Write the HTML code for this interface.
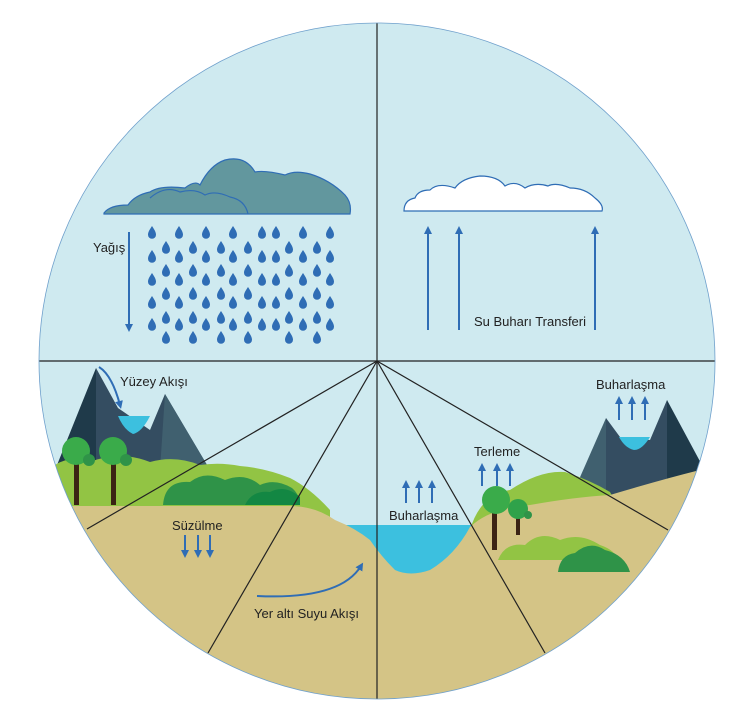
<!DOCTYPE html>
<html><head><meta charset="utf-8"><style>
html,body{margin:0;padding:0;background:#fff;}
svg{display:block;}
text{font-family:"Liberation Sans",sans-serif;font-size:13px;fill:#222;}
</style></head><body>
<svg width="751" height="710" viewBox="0 0 751 710" xmlns="http://www.w3.org/2000/svg">
<defs>
<clipPath id="c"><circle cx="377" cy="361" r="338"/></clipPath>
<path id="d" d="M0,-7 C2.3,-3.5 4,-1 4,1.8 A4,4 0 0 1 -4,1.8 C-4,-1 -2.3,-3.5 0,-7Z" fill="#2f6db5"/>
<marker id="ah" markerWidth="8" markerHeight="8" refX="4" refY="4" orient="auto" markerUnits="userSpaceOnUse"><path d="M0,0 L8,4 L0,8 Z" fill="#2f6db5"/></marker>
</defs>
<g clip-path="url(#c)">
<rect x="0" y="0" width="751" height="710" fill="#cfeaf0"/>
<polygon points="55,470 96,368 130,470" fill="#1f3a4a"/>
<polygon points="96,368 118,408 150,430 165,394 210,470 96,470" fill="#344d61"/>
<polygon points="165,394 210,470 160,470" fill="#40606f"/>
<path d="M118,416 L150,416 Q142,432 133,434 Q124,430 118,416Z" fill="#3cc0df"/>
<path d="M55,505 L55,465 Q70,455 90,462 Q120,450 150,462 Q175,455 200,465 Q220,462 240,466 Q265,468 290,478 Q310,488 330,510 L330,520 L55,520Z" fill="#92c444"/>
<path d="M163,505 Q165,480 190,482 Q205,470 225,480 Q245,472 260,485 Q275,478 292,488 Q300,495 300,505Z" fill="#2f9348"/>
<path d="M245,505 Q252,490 270,492 Q285,484 300,497 L300,505Z" fill="#138743"/>
<rect x="74" y="455" width="5" height="50" fill="#3b2314"/>
<rect x="111" y="455" width="5" height="50" fill="#3b2314"/>
<circle cx="76" cy="451" r="14" fill="#3aab4a"/><circle cx="89" cy="460" r="6" fill="#2f9348"/>
<circle cx="113" cy="451" r="14" fill="#3aab4a"/><circle cx="126" cy="460" r="6" fill="#2f9348"/>
<polygon points="570,500 606,418 640,500" fill="#40606f"/>
<polygon points="606,418 620,437 650,440 667,400 700,500 606,500" fill="#344d61"/>
<polygon points="667,400 710,480 700,500 667,500" fill="#1f3a4a"/>
<path d="M619,437 L650,437 Q642,450 634,450 Q625,448 619,437Z" fill="#3cc0df"/>
<path d="M340,525 L475,525 Q450,572 410,575 Q385,575 375,550 Q360,530 340,525Z" fill="#3cc0df"/>
<path d="M470,530 Q480,495 510,490 Q540,470 565,472 Q590,480 610,492 L620,510 L470,540Z" fill="#92c444"/>
<path d="M40,506 L290,506 Q315,506 335,520 Q355,528 370,540 Q380,555 395,570 Q410,577 430,570 Q455,555 470,527 Q490,508 530,505 Q575,497 610,495 Q660,480 700,470 L760,470 L760,720 L40,720Z" fill="#d4c486"/>
<path d="M498,560 Q505,542 525,545 Q540,530 560,540 Q580,532 600,545 Q615,550 618,560Z" fill="#92c444"/>
<path d="M558,572 Q560,555 575,553 Q590,540 605,550 Q625,555 630,572Z" fill="#2f9348"/>
<rect x="492" y="505" width="5" height="45" fill="#3b2314"/>
<rect x="516" y="510" width="4" height="25" fill="#3b2314"/>
<circle cx="496" cy="500" r="14" fill="#3aab4a"/>
<circle cx="518" cy="509" r="10" fill="#2fa24a"/><circle cx="528" cy="515" r="4" fill="#2f9348"/>
<path d="M104,213 Q110,205 128,205 Q135,195 150,192 Q160,185 185,188 Q195,180 200,185 Q210,165 225,160 Q245,155 255,172 Q265,170 285,175 Q295,170 310,174 Q330,180 345,195 Q352,203 350,214 L104,214Z" fill="#62979e" stroke="#2f6db5" stroke-width="1.2"/>
<path d="M150,198 Q165,185 180,192 Q195,188 205,195 Q215,190 230,197 Q245,200 248,214" fill="none" stroke="#2f6db5" stroke-width="1.2"/>
<path d="M404,211 Q404,200 415,198 Q418,190 430,190 Q438,182 455,188 Q462,178 480,176 Q498,176 505,186 Q515,180 525,188 Q535,182 548,186 Q556,182 570,188 Q585,188 595,198 Q604,205 602,211Z" fill="#fff" stroke="#2f6db5" stroke-width="1.2"/>
<g id="rA"><use href="#d" x="152"/><use href="#d" x="179"/><use href="#d" x="206"/><use href="#d" x="233"/><use href="#d" x="262"/><use href="#d" x="276"/><use href="#d" x="303"/><use href="#d" x="330"/></g>
<g id="rB"><use href="#d" x="166"/><use href="#d" x="193"/><use href="#d" x="221"/><use href="#d" x="248"/><use href="#d" x="289"/><use href="#d" x="317"/></g>
<use href="#rA" y="233"/><use href="#rA" y="257"/><use href="#rA" y="280"/><use href="#rA" y="303"/><use href="#rA" y="325"/>
<use href="#rB" y="248"/><use href="#rB" y="271"/><use href="#rB" y="294"/><use href="#rB" y="318"/><use href="#rB" y="338"/>
<g stroke="#222" stroke-width="1.2">
<line x1="30" y1="361" x2="725" y2="361"/>
<line x1="377" y1="15" x2="377" y2="710"/>
<line x1="377" y1="361" x2="87" y2="529"/>
<line x1="377" y1="361" x2="208" y2="653"/>
<line x1="377" y1="361" x2="545" y2="653"/>
<line x1="377" y1="361" x2="668" y2="530"/>
</g>
</g>
<circle cx="377" cy="361" r="338" fill="none" stroke="#6fa0cc" stroke-width="0.8"/>
<g stroke="#2f6db5" stroke-width="2" fill="none" marker-end="url(#ah)">
<line x1="129" y1="232" x2="129" y2="328"/>
<line x1="428" y1="330" x2="428" y2="230"/>
<line x1="459" y1="330" x2="459" y2="230"/>
<line x1="595" y1="330" x2="595" y2="230"/>
<path d="M99,367 Q112,375 120,405"/>
<line x1="185" y1="535" x2="185" y2="554"/>
<line x1="198" y1="535" x2="198" y2="554"/>
<line x1="210" y1="535" x2="210" y2="554"/>
<path d="M257,596 Q340,600 361,566"/>
<line x1="406" y1="503" x2="406" y2="484"/>
<line x1="419" y1="503" x2="419" y2="484"/>
<line x1="432" y1="503" x2="432" y2="484"/>
<line x1="482" y1="486" x2="482" y2="467"/>
<line x1="497" y1="486" x2="497" y2="467"/>
<line x1="510" y1="486" x2="510" y2="467"/>
<line x1="619" y1="420" x2="619" y2="400"/>
<line x1="632" y1="420" x2="632" y2="400"/>
<line x1="645" y1="420" x2="645" y2="400"/>
</g>
<text x="93" y="252">Yağış</text>
<text x="474" y="326">Su Buharı Transferi</text>
<text x="120" y="386">Yüzey Akışı</text>
<text x="172" y="530">Süzülme</text>
<text x="254" y="618">Yer altı Suyu Akışı</text>
<text x="389" y="520">Buharlaşma</text>
<text x="474" y="456">Terleme</text>
<text x="596" y="389">Buharlaşma</text>
</svg>
</body></html>
